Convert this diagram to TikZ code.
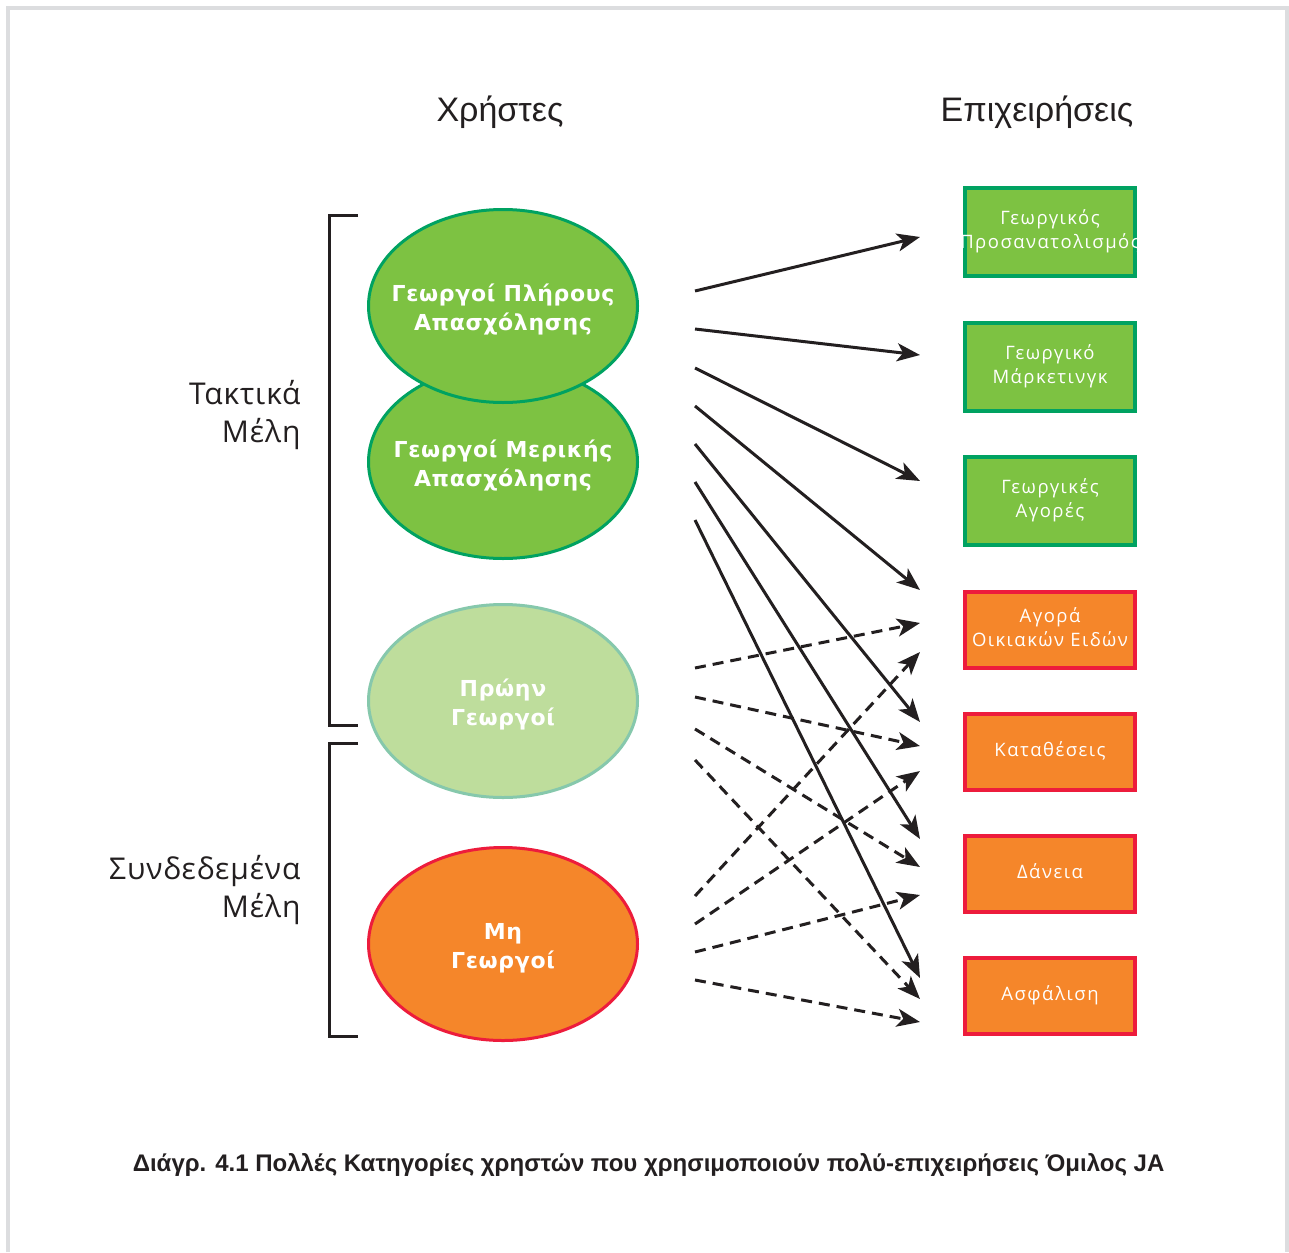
\documentclass[tikz,border=0pt]{standalone}
\usepackage{fontspec}
\setmainfont{Open Sans}
\newfontfamily\hdrfont{Liberation Sans}
\newfontfamily\ellfont{DejaVu Sans}[LetterSpace=3]
\newfontfamily\boxfont{Open Sans}[LetterSpace=8]
\newfontfamily\lblfont{Open Sans}[LetterSpace=3]
\usetikzlibrary{arrows.meta,shapes.geometric}
\definecolor{gfill}{HTML}{7DC242}
\definecolor{gline}{HTML}{00A261}
\definecolor{lgfill}{HTML}{BEDD9C}
\definecolor{lgline}{HTML}{86C8AC}
\definecolor{ofill}{HTML}{F5862A}
\definecolor{rline}{HTML}{ED1C3C}
\definecolor{ink}{HTML}{231F20}
\definecolor{framec}{HTML}{DCDDDF}
\newcommand{\ctrtxt}[1]{\makebox[0pt]{\begin{tabular}{@{}c@{}}#1\end{tabular}}}
\newcommand{\elltxt}[1]{\raisebox{-4pt}[\height][\depth]{\ctrtxt{#1}}}
\tikzset{
  ell/.style={ellipse, minimum width=269pt, minimum height=193pt, line width=3pt,
    inner sep=0pt, align=center, text=white,
    font=\ellfont\bfseries\fontsize{22}{29}\selectfont},
  greenell/.style={ell, draw=gline, fill=gfill},
  lightell/.style={ell, draw=lgline, fill=lgfill},
  orangeell/.style={ell, draw=rline, fill=ofill},
  bizbox/.style={rectangle, minimum width=170pt, line width=4pt, inner sep=0pt,
    text=white, font=\boxfont\fontsize{18.5}{24}\selectfont},
  greenbox/.style={bizbox, draw=gline, fill=gfill, minimum height=88pt},
  orangebox/.style={bizbox, draw=rline, fill=ofill, minimum height=76pt},
  conn/.style={draw=ink, line width=3pt, -{Stealth[length=23pt,width=18pt,inset=6pt]}},
  dconn/.style={conn, dash pattern=on 11pt off 7pt},
  bracket/.style={draw=ink, line width=3pt},
  sidelabel/.style={anchor=east, align=right, text=ink,
    font=\lblfont\fontsize{30}{38}\selectfont},
  header/.style={text=ink, font=\hdrfont\fontsize{34}{40}\selectfont},
}
\begin{document}
\begin{tikzpicture}[x=1pt,y=-1pt]
\useasboundingbox (0,0) rectangle (1289,1252);
\fill[white] (0,0) rectangle (1289,1252);
\draw[framec, line width=4pt] (8,1252) -- (8,8) -- (1287,8) -- (1287,1252);

% headers
\node[header] (hUsers) at (500,112) {Χρήστες};
\node[header] (hBiz) at (1037,112) {Επιχειρήσεις};

% brackets
\coordinate (bA1) at (358,215);
\coordinate (bA2) at (329,215);
\coordinate (bA3) at (329,725);
\coordinate (bA4) at (358,725);
\draw[bracket] (bA1) -- (bA2) -- (bA3) -- (bA4);
\coordinate (bB1) at (358,743);
\coordinate (bB2) at (329,743);
\coordinate (bB3) at (329,1036);
\coordinate (bB4) at (358,1036);
\draw[bracket] (bB1) -- (bB2) -- (bB3) -- (bB4);

\node[sidelabel] (lReg) at (304,415) {Τακτικά\\Μέλη};
\node[sidelabel] (lAssoc) at (304,890) {Συνδεδεμένα\\Μέλη};

% ellipses
\node[greenell] (eMer) at (503,462) {\elltxt{Γεωργοί Μερικής\\Απασχόλησης}};
\node[greenell] (eFull) at (503,306) {\elltxt{Γεωργοί Πλήρους\\Απασχόλησης}};
\node[lightell] (eFormer) at (503,701) {\elltxt{Πρώην\\Γεωργοί}};
\node[orangeell] (eNon) at (503,944) {\elltxt{Μη\\Γεωργοί}};

% business boxes
\node[greenbox] (b1) at (1050,231.5) {\ctrtxt{Γεωργικός\\Προσανατολισμός}};
\node[greenbox] (b2) at (1050,366.5) {\ctrtxt{Γεωργικό\\Μάρκετινγκ}};
\node[greenbox] (b3) at (1050,500.5) {\ctrtxt{Γεωργικές\\Αγορές}};
\node[orangebox] (b4) at (1050,629.5) {\ctrtxt{Αγορά\\Οικιακών Ειδών}};
\node[orangebox] (b5) at (1050,751.5) {\ctrtxt{Καταθέσεις}};
\node[orangebox] (b6) at (1050,873.5) {\ctrtxt{Δάνεια}};
\node[orangebox] (b7) at (1050,995.5) {\ctrtxt{Ασφάλιση}};

% arrow start / end points
\foreach \n/\y in {1/291,2/329,3/368,4/406,5/444,6/482,7/520,
                   8/668,9/697,10/729,11/760,12/896,13/924,14/952,15/980}
  \coordinate (s\n) at (695,\y);
\foreach \n/\y in {1/237,2/355,3/481,4/590,5/722,6/839,7/978,
                   8/623,9/746,10/867,11/999,12/652,13/771,14/895,15/1022}
  \coordinate (t\n) at (920,\y);

\foreach \n in {1,...,7} \draw[conn] (s\n) -- (t\n);
\foreach \n in {8,...,15} \draw[dconn] (s\n) -- (t\n);

% caption
\node[text=ink, font=\hdrfont\bfseries\fontsize{24}{28}\selectfont] (cap) at (648.5,1165)
  {Διάγρ. 4.1 Πολλές Κατηγορίες χρηστών που χρησιμοποιούν πολύ-επιχειρήσεις Όμιλος JA};
\end{tikzpicture}
\end{document}
